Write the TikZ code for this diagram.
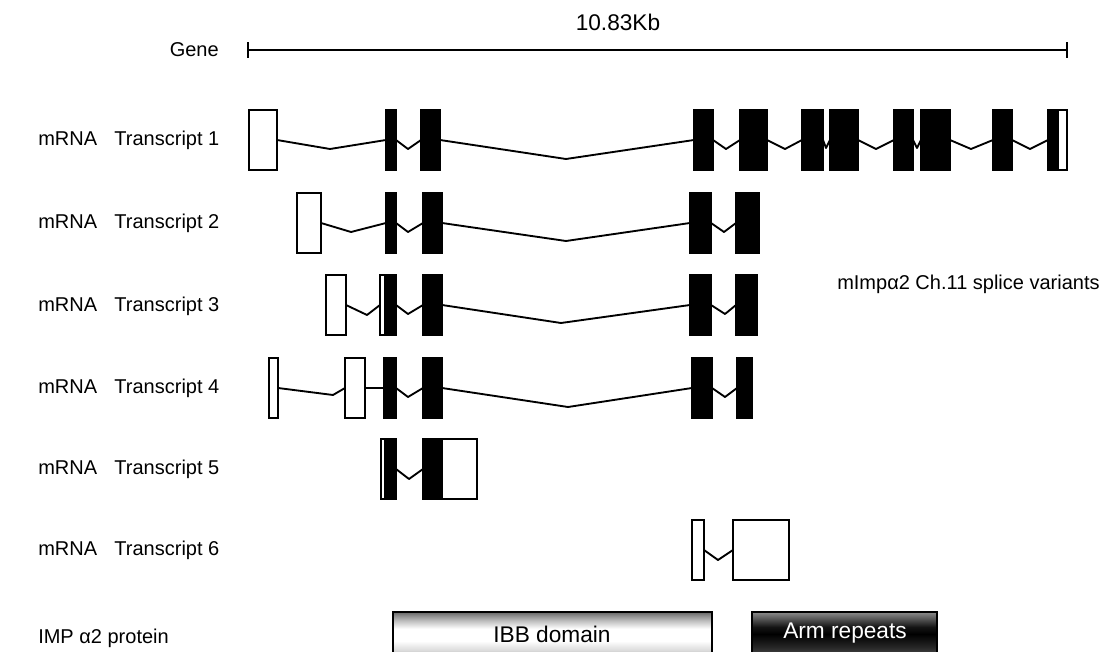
\documentclass[tikz,border=0pt]{standalone}
\usepackage{fontspec}
\setmainfont{Liberation Sans}
\pgfdeclareverticalshading{ibbshade}{100bp}{color(0bp)=(black!35); color(25bp)=(black!35); color(31bp)=(black!15); color(42bp)=(white); color(56bp)=(white); color(65bp)=(black!25); color(71bp)=(black!45); color(75bp)=(black!60); color(100bp)=(black!60)}
\pgfdeclareverticalshading{armshade}{100bp}{color(0bp)=(black!70); color(25bp)=(black!70); color(35bp)=(black!85); color(50bp)=(black); color(58bp)=(black!92); color(66bp)=(black!70); color(75bp)=(black!45); color(100bp)=(black!45)}
\newcommand\exb[3]{\draw[exon] (#1,#3-30) rectangle (#2,#3+30);}
\newcommand\exo[3]{\draw[utr] (#1,#3-30) rectangle (#2,#3+30);}
\newcommand\intron[5]{\draw[intr] (#1,#5) -- (#3,#5+#4) -- (#2,#5);}
\begin{document}
\begin{tikzpicture}[x=0.75pt,y=-0.75pt,
  exon/.style={fill=black,draw=black,line width=0.9pt},
  utr/.style={fill=white,draw=black,line width=1.3pt},
  intr/.style={draw=black,line width=1.4pt,line join=round},
  lab/.style={anchor=west,font=\fontsize{15}{18}\selectfont,inner sep=0pt},
  big/.style={font=\fontsize{17}{20}\selectfont,inner sep=0pt}]
\clip (0,0) rectangle (1107,652);
\fill[white] (0,0) rectangle (1107,652);
% gene scale
\coordinate (g1) at (248,50);
\coordinate (g2) at (1067,50);
\draw[line width=1.4pt] (g1) -- (g2);
\draw[line width=1.1pt] ([yshift=-8*0.75pt]g1) -- ([yshift=8*0.75pt]g1);
\draw[line width=1.1pt] ([yshift=-8*0.75pt]g2) -- ([yshift=8*0.75pt]g2);
\node[big] (kb) at (618,22) {10.83Kb};
\node[lab,anchor=east] (gene) at (219,50) {Gene};
% labels
\node[lab] (t1) at (38,140) {mRNA\hspace{13pt}Transcript 1};
\node[lab] (t2) at (38,223) {mRNA\hspace{13pt}Transcript 2};
\node[lab] (t3) at (38,306) {mRNA\hspace{13pt}Transcript 3};
\node[lab] (t4) at (38,388) {mRNA\hspace{13pt}Transcript 4};
\node[lab] (t5) at (38,469) {mRNA\hspace{13pt}Transcript 5};
\node[lab] (t6) at (38,550) {mRNA\hspace{13pt}Transcript 6};
\node[lab] (sv) at (837,284) {mImpα2 Ch.11 splice variants};
\node[lab] (prot) at (38,638) {IMP α2 protein};
% transcript 1
\intron{277}{386}{330}{9}{140}
\intron{396}{421}{408}{9}{140}
\intron{440}{694}{566}{19}{140}
\intron{713}{740}{726}{9}{140}
\intron{767}{802}{785}{9}{140}
\intron{823}{830}{826}{8}{140}
\intron{858}{894}{876}{9}{140}
\intron{913}{921}{917}{8}{140}
\intron{950}{993}{971}{9}{140}
\intron{1012}{1048}{1030}{9}{140}
\exo{249}{277}{140}
\exb{386}{396}{140}
\exb{421}{440}{140}
\exb{694}{713}{140}
\exb{740}{767}{140}
\exb{802}{823}{140}
\exb{830}{858}{140}
\exb{894}{913}{140}
\exb{921}{950}{140}
\exb{993}{1012}{140}
\exb{1048}{1058}{140}
\exo{1058}{1067}{140}
% transcript 2
\intron{321}{386}{351}{9}{223}
\intron{396}{423}{408}{9}{223}
\intron{442}{690}{566}{18}{223}
\intron{711}{736}{724}{9}{223}
\exo{297}{321}{223}
\exb{386}{396}{223}
\exb{423}{442}{223}
\exb{690}{711}{223}
\exb{736}{759}{223}
% transcript 3
\intron{346}{380}{367}{10}{305}
\intron{396}{423}{408}{9}{305}
\intron{442}{690}{561}{18}{305}
\intron{711}{736}{725}{9}{305}
\exo{326}{346}{305}
\exo{380}{385}{305}
\exb{385}{396}{305}
\exb{423}{442}{305}
\exb{690}{711}{305}
\exb{736}{757}{305}
% transcript 4
\intron{278}{345}{333}{7}{388}
\draw[intr] (365,388) -- (384,388);
\intron{396}{423}{408}{9}{388}
\intron{442}{692}{568}{19}{388}
\intron{712}{737}{725}{9}{388}
\exo{269}{278}{388}
\exo{345}{365}{388}
\exb{384}{396}{388}
\exb{423}{442}{388}
\exb{692}{712}{388}
\exb{737}{752}{388}
% transcript 5
\intron{396}{423}{409}{10}{469}
\exo{381}{385}{469}
\exb{385}{396}{469}
\exb{423}{442}{469}
\exo{442}{477}{469}
% transcript 6
\intron{704}{733}{718}{10}{550}
\exo{692}{704}{550}
\exo{733}{789}{550}
% protein domains
\draw[line width=1pt,shading=ibbshade] (393,612) rectangle (712,656);
\node[big] (ibb) at (552,634) {IBB domain};
\draw[line width=1pt,shading=armshade] (752,612) rectangle (937,656);
\node[big,text=white] (arm) at (845,633) {Arm repeats};
\end{tikzpicture}
\end{document}
